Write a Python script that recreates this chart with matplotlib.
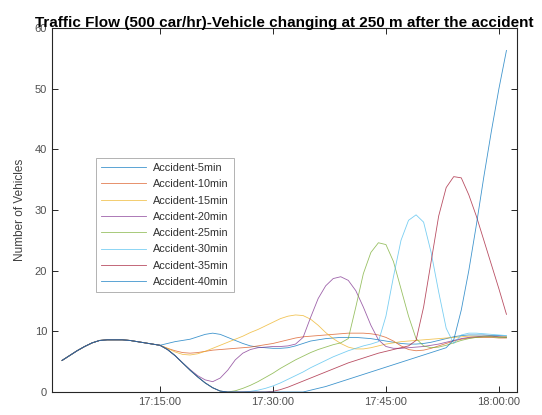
import numpy as np
import matplotlib
matplotlib.use('Agg')
import matplotlib.pyplot as plt
import matplotlib.dates as mdates

plt.rcParams['font.family'] = ['Liberation Sans', 'DejaVu Sans']

# sample times: one per minute, 17:02 .. 18:01
start = np.datetime64('2020-01-01T17:02:00')
minutes = np.arange(60)
times = start + minutes.astype('timedelta64[m]')

# shared part of every run (17:02 .. 17:15)
common = [5.2, 6.0, 6.8, 7.5, 8.1, 8.5, 8.6, 8.6, 8.6, 8.5, 8.3, 8.1, 7.9, 7.7]
# flow collapse shared by the long accidents (17:16 .. 17:24)
drop = [7.0, 6.0, 4.8, 3.6, 2.5, 1.5, 0.7, 0.15, 0.0]

acc5 = common + [8.0, 8.3, 8.5, 8.7, 9.1, 9.5, 9.7, 9.5, 9.0, 8.5,
                 8.0, 7.6, 7.4, 7.3, 7.2, 7.2, 7.3, 7.6, 8.0, 8.4,
                 8.6, 8.8, 8.9, 9.0, 9.0, 9.0, 8.9, 8.8, 8.6, 8.4,
                 8.2, 8.0, 7.9, 7.9, 8.0, 8.2, 8.5, 8.8, 9.1, 9.3,
                 9.4, 9.4, 9.4, 9.3, 9.3, 9.2]
acc10 = common + [7.2, 6.8, 6.5, 6.4, 6.5, 6.7, 6.9, 7.0, 7.1, 7.2,
                  7.3, 7.4, 7.6, 7.8, 8.0, 8.3, 8.6, 8.9, 9.1, 9.2,
                  9.3, 9.4, 9.5, 9.6, 9.7, 9.7, 9.7, 9.6, 9.4, 9.0,
                  8.4, 7.6, 7.0, 6.8, 6.9, 7.2, 7.6, 8.0, 8.4, 8.7,
                  8.9, 9.0, 9.0, 9.0, 8.9, 8.9]
acc15 = common + [7.2, 6.6, 6.2, 6.1, 6.3, 6.7, 7.2, 7.7, 8.2, 8.7,
                  9.2, 9.8, 10.3, 10.9, 11.5, 12.1, 12.5, 12.7, 12.6, 12.0,
                  11.0, 9.8, 8.8, 8.0, 7.4, 7.1, 7.1, 7.3, 7.6, 7.9,
                  8.1, 8.3, 8.4, 8.5, 8.6, 8.7, 8.8, 8.9, 9.0, 9.1,
                  9.2, 9.2, 9.2, 9.2, 9.1, 9.1]
acc20 = common + [7.0, 6.0, 4.8, 3.7, 2.7, 2.0, 1.7, 2.3, 3.6, 5.3,
                  6.4, 7.0, 7.3, 7.4, 7.5, 7.5, 7.6, 7.9, 9.0, 12.3,
                  15.4, 17.5, 18.7, 19.0, 18.4, 16.7, 14.0, 11.0, 8.6, 7.5,
                  7.2, 7.2, 7.3, 7.4, 7.5, 7.7, 7.9, 8.2, 8.5, 8.8,
                  9.0, 9.1, 9.2, 9.2, 9.1, 9.0]
acc25 = common + drop + [0.2,
                         0.6, 1.1, 1.7, 2.4, 3.1, 3.9, 4.6, 5.3, 5.9, 6.5,
                         7.0, 7.4, 7.8, 8.1, 8.8, 14.0, 19.5, 23.0, 24.6, 24.3,
                         21.5, 17.0, 12.5, 8.8, 7.6, 7.3, 7.4, 7.7, 8.1, 8.5,
                         8.8, 9.0, 9.1, 9.1, 9.0, 9.0]
acc30 = common + drop + [0.0,
                         0.0, 0.1, 0.3, 0.6, 1.0, 1.5, 2.1, 2.7, 3.3, 4.0,
                         4.6, 5.2, 5.8, 6.3, 6.8, 7.2, 7.6, 7.9, 8.3, 12.5,
                         19.0, 25.0, 28.3, 29.2, 28.0, 23.0, 16.5, 10.5, 8.0, 9.4,
                         9.7, 9.7, 9.6, 9.5, 9.4, 9.3]
acc35 = common + drop + [0.0,
                         0.0, 0.0, 0.0, 0.0, 0.1, 0.4, 0.8, 1.3, 1.8, 2.3,
                         2.8, 3.3, 3.8, 4.3, 4.8, 5.2, 5.6, 6.0, 6.4, 6.7,
                         7.0, 7.3, 7.6, 8.5, 14.0, 21.5, 29.0, 33.7, 35.5, 35.3,
                         32.5, 29.0, 25.0, 21.0, 17.0, 12.8]
acc40 = common + drop + [0.0,
                         0.0, 0.0, 0.0, 0.0, 0.0, 0.0, 0.0, 0.0, 0.0, 0.3,
                         0.6, 0.9, 1.3, 1.7, 2.1, 2.5, 2.9, 3.3, 3.7, 4.1,
                         4.5, 4.9, 5.3, 5.7, 6.1, 6.5, 6.9, 7.3, 8.6, 13.5,
                         20.0, 27.5, 35.5, 43.0, 50.0, 56.3]

series = [acc5, acc10, acc15, acc20, acc25, acc30, acc35, acc40]
labels = ['Accident-5min', 'Accident-10min', 'Accident-15min', 'Accident-20min',
          'Accident-25min', 'Accident-30min', 'Accident-35min', 'Accident-40min']
# matlab default line colours
colors = ['#0072BD', '#D95319', '#EDB120', '#7E2F8E',
          '#77AC30', '#4DBEEE', '#A2142F', '#0072BD']

fig = plt.figure(figsize=(5.42, 4.15), dpi=100)
ax = fig.add_axes([52/542, 23/415, 465/542, 364/415])

for y, lab, c in zip(series, labels, colors):
    ax.plot(times, y, color=c, lw=0.6, alpha=0.75, label=lab)

ax.set_xlim(np.datetime64('2020-01-01T17:00:40'), np.datetime64('2020-01-01T18:02:24'))
ax.set_ylim(0, 60)
ax.set_yticks([0, 10, 20, 30, 40, 50, 60])
ax.xaxis.set_major_locator(mdates.MinuteLocator(byminute=[0, 15, 30, 45]))
ax.xaxis.set_major_formatter(mdates.DateFormatter('%H:%M:%S'))

ax.tick_params(direction='in', length=4, width=0.7, top=True, right=True,
               labelsize=8, colors='#262626', labelcolor='#505050')
for s in ax.spines.values():
    s.set_color('#262626')
    s.set_linewidth(0.8)

ax.set_ylabel('Number of Vehicles', fontsize=8.5, color='#404040', labelpad=6)
ax.set_title('Traffic Flow (500 car/hr)-Vehicle changing at 250 m after the accident',
             fontsize=11, fontweight='bold', pad=1, zorder=5,
             backgroundcolor='none')

leg = ax.legend(loc='upper left', bbox_to_anchor=(0.082, 0.659), fontsize=7.8,
                frameon=True, fancybox=False, edgecolor='#909090',
                labelspacing=0.58, handlelength=4.2, handletextpad=0.6,
                borderpad=0.5)
leg.get_frame().set_linewidth(0.6)
for t in leg.get_texts():
    t.set_color('#303030')

fig.savefig('out.png', dpi=100)
